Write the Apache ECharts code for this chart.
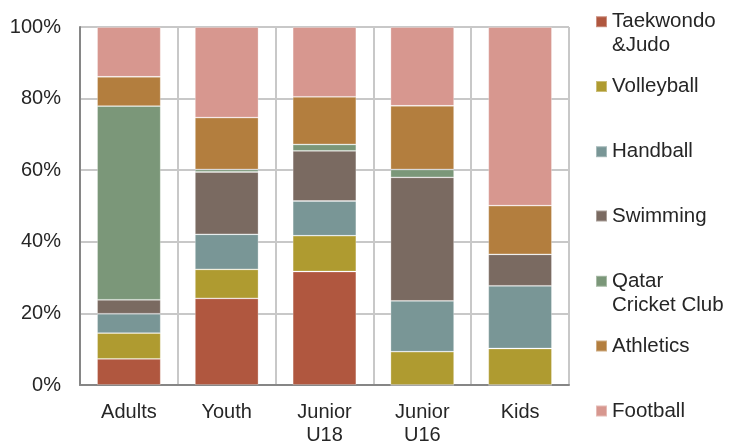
<!DOCTYPE html>
<html>
<head>
<meta charset="utf-8">
<script src="https://cdn.jsdelivr.net/npm/echarts@6/dist/echarts.min.js"></script>
<style>
  html, body { margin: 0; padding: 0; background: #ffffff; }
  #chart { width: 729px; height: 443px; }
</style>
</head>
<body>
<div id="chart"></div>
<script>
// Share of members per sport in each age group (%)
const categories = ['Adults', 'Youth', 'Junior U18', 'Junior U16', 'Kids'];
const yTicks = [0, 20, 40, 60, 80, 100];

const taekwondoJudo = [7.3, 24.2, 31.7, 0, 0];
const volleyball    = [7.2, 8.1, 10.0, 9.3, 10.2];
const handball      = [5.4, 9.8, 9.7, 14.2, 17.5];
const swimming      = [3.9, 17.4, 14.0, 34.5, 8.8];
const cricketClub   = [54.1, 0.7, 1.8, 2.2, 0];
const athletics     = [8.2, 14.5, 13.3, 17.8, 13.6];
const football      = [13.9, 25.3, 19.5, 22.0, 49.9];

const seriesDefs = [
  { name: 'Taekwondo &Judo',    label: 'Taekwondo\n&Judo',    data: taekwondoJudo, color: '#B0573F' },
  { name: 'Volleyball',         label: 'Volleyball',          data: volleyball,    color: '#AF9B30' },
  { name: 'Handball',           label: 'Handball',            data: handball,      color: '#799696' },
  { name: 'Swimming',           label: 'Swimming',            data: swimming,      color: '#7A6A61' },
  { name: 'Qatar Cricket Club', label: 'Qatar\nCricket Club', data: cricketClub,   color: '#7B9779' },
  { name: 'Athletics',          label: 'Athletics',           data: athletics,     color: '#B37E3E' },
  { name: 'Football',           label: 'Football',            data: football,      color: '#D7978F' }
];

// vertical centre of each legend marker
const legendCenters = [21.7, 86.5, 151.7, 216, 281.3, 346, 411];

const FONT = "'Liberation Sans', Arial, sans-serif";
const TEXT = '#262626';
const LEGEND_LINE = 24;

// Two-line names get an empty leading line so the marker sits on the first line
const legends = seriesDefs.map((s, i) => {
  const twoLines = s.label.indexOf('\n') >= 0;
  const text = twoLines ? '\n' + s.label : s.label;
  const half = twoLines ? (LEGEND_LINE * 3) / 2 : LEGEND_LINE / 2;
  return {
    orient: 'vertical',
    left: 595,
    top: legendCenters[i] - half,
    padding: 0,
    itemWidth: 11,
    itemHeight: 11,
    icon: 'rect',
    data: [s.name],
    formatter: () => text,
    textStyle: {
      fontFamily: FONT,
      fontSize: 20.5,
      color: TEXT,
      lineHeight: LEGEND_LINE
    }
  };
});

const chart = echarts.init(document.getElementById('chart'), null, { renderer: 'canvas' });
chart.setOption({
  animation: false,
  backgroundColor: '#ffffff',
  grid: {
    left: 80, right: 160, top: 27, bottom: 58,
    containLabel: false,
    outerBoundsMode: 'none'
  },
  legend: legends,
  xAxis: {
    type: 'category',
    data: categories,
    boundaryGap: true,
    axisLine: { show: true, lineStyle: { color: '#868686', width: 2 } },
    axisTick: { show: false },
    splitLine: { show: true, interval: 0, lineStyle: { color: '#c8c8c8', width: 2 } },
    axisLabel: {
      interval: 0,
      margin: 16,
      fontFamily: FONT,
      fontSize: 20,
      lineHeight: 23,
      color: TEXT,
      formatter: v => v.replace(' ', '\n')
    }
  },
  yAxis: {
    type: 'value',
    min: yTicks[0],
    max: yTicks[yTicks.length - 1],
    interval: yTicks[1] - yTicks[0],
    axisLine: { show: true, lineStyle: { color: '#868686', width: 2 } },
    axisTick: { show: false },
    splitLine: { show: true, lineStyle: { color: '#c8c8c8', width: 2 } },
    axisLabel: {
      margin: 19,
      fontFamily: FONT,
      fontSize: 20,
      color: TEXT,
      formatter: '{value}%'
    }
  },
  series: seriesDefs.map(s => ({
    name: s.name,
    type: 'bar',
    stack: 'share',
    barWidth: '65%',
    data: s.data,
    itemStyle: {
      color: s.color,
      borderColor: 'rgba(255,255,255,0.35)',
      borderWidth: 0.8
    },
    emphasis: { disabled: true }
  }))
});
</script>
</body>
</html>
